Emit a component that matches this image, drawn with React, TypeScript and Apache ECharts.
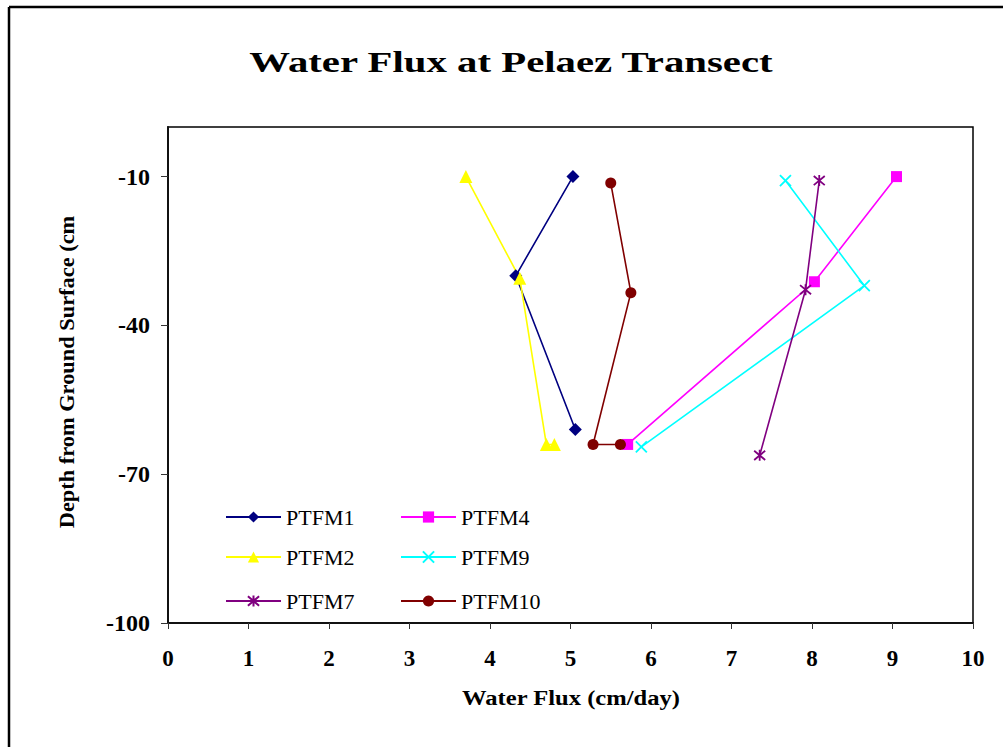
import React, { useEffect, useRef } from "react";
import * as echarts from "echarts";

const xTicks = [0, 1, 2, 3, 4, 5, 6, 7, 8, 9, 10];
const depthTicks = [-100, -70, -40, -10];

const seriesNames = ["PTFM1", "PTFM4", "PTFM2", "PTFM9", "PTFM7", "PTFM10"];

const ptfm1 = [[5.03, -10], [4.32, -30], [5.06, -61]];
const ptfm2 = [[3.7, -10], [4.37, -30.5], [4.7, -64], [4.8, -64]];
const ptfm4 = [[9.05, -10], [8.03, -31.2], [5.71, -64]];
const ptfm9 = [[7.67, -10.8], [8.65, -32], [5.88, -64.5]];
const ptfm7 = [[8.09, -10.8], [7.92, -32.8], [7.35, -66.2]];
const ptfm10 = [[5.5, -11.3], [5.75, -33.4], [5.28, -64], [5.62, -64]];

const FONT = "Liberation Serif";

export default function App() {
  const ref = useRef<HTMLDivElement>(null);
  useEffect(() => {
    if (!ref.current) return;
    const chart = echarts.init(ref.current, null, { renderer: "svg" });
    const crossPath = "path://M0,0L10,10M10,0L0,10";
    const starPath = "path://M0,0L10,10M10,0L0,10M5,-1L5,11";
    const mk = (name: string, data: number[][], color: string, symbol: string, size: number, stroke = false) => ({
      name,
      type: "line",
      data,
      symbol,
      symbolSize: size,
      showAllSymbol: true,
      lineStyle: { color, width: 1.6 },
      itemStyle: stroke
        ? { color, borderColor: color, borderWidth: 1.8 }
        : { color, borderWidth: 0 },
      emphasis: { disabled: true },
      z: 3,
    });
    const legendPos = [
      [225, 513],
      [400, 513],
      [225, 553],
      [400, 553],
      [225, 597],
      [400, 597],
    ];
    const txt = (text: string, x: number, y: number, size: number, scaleX: number, rotation = 0) => ({
      type: "text",
      x,
      y,
      rotation,
      scaleX,
      silent: true,
      style: {
        text,
        fontFamily: FONT,
        fontWeight: "bold",
        fontSize: size,
        fill: "#000",
        textAlign: "center",
        textVerticalAlign: "middle",
      },
    });
    chart.setOption({
      animation: false,
      backgroundColor: "#fff",
      grid: { left: 168, right: 30, top: 127, bottom: 124, show: true, borderColor: "#000", borderWidth: 1.5, containLabel: false },
      xAxis: {
        type: "value",
        min: 0,
        max: 10,
        interval: 1,
        axisLine: { show: true, onZero: false, lineStyle: { color: "#111", width: 2 } },
        axisTick: { show: true, length: 6, lineStyle: { color: "#333" } },
        splitLine: { show: false },
        axisLabel: { fontFamily: FONT, fontWeight: "bold", fontSize: 23, color: "#000", margin: 24 },
      },
      yAxis: {
        type: "value",
        min: -100,
        max: 0,
        interval: 30,
        axisLine: { show: true, onZero: false, lineStyle: { color: "#111", width: 2 } },
        axisTick: { show: true, length: 7, customValues: depthTicks, lineStyle: { color: "#333" } },
        splitLine: { show: false },
        axisLabel: {
          customValues: depthTicks,
          fontFamily: FONT,
          fontWeight: "bold",
          fontSize: 24,
          color: "#000",
          margin: 18,
        },
      },
      legend: legendPos.map((p, i) => ({
        data: [seriesNames[i]],
        left: p[0],
        top: p[1] - 7,
        padding: 0,
        itemWidth: 55,
        itemHeight: 14,
        itemGap: 0,
        selectedMode: false,
        textStyle: { fontFamily: FONT, fontSize: 22, color: "#000" },
      })),
      series: [
        mk("PTFM1", ptfm1, "#000080", "diamond", 13),
        mk("PTFM4", ptfm4, "#FF00FF", "rect", 11),
        mk("PTFM2", ptfm2, "#FFFF00", "triangle", 13),
        mk("PTFM9", ptfm9, "#00FFFF", crossPath, 11, true),
        mk("PTFM7", ptfm7, "#800080", starPath, 11, true),
        mk("PTFM10", ptfm10, "#800000", "circle", 11),
      ],
      graphic: [
        { type: "line", shape: { x1: 9, y1: 7, x2: 1003, y2: 7 }, style: { stroke: "#000", lineWidth: 2.5 }, silent: true },
        { type: "line", shape: { x1: 9, y1: 7, x2: 9, y2: 747 }, style: { stroke: "#000", lineWidth: 2.5 }, silent: true },
        txt("Water Flux at Pelaez Transect", 511, 62, 30, 1.36),
        txt("Water Flux (cm/day)", 571, 698, 21, 1.17),
        txt("Depth from Ground Surface (cm", 67, 372, 20, 1.12, Math.PI / 2),
      ],
    });
    return () => chart.dispose();
  }, []);
  return (
    <div
      ref={ref}
      style={{ position: "fixed", left: 0, top: 0, width: 1003, height: 747, background: "#fff" }}
    />
  );
}
